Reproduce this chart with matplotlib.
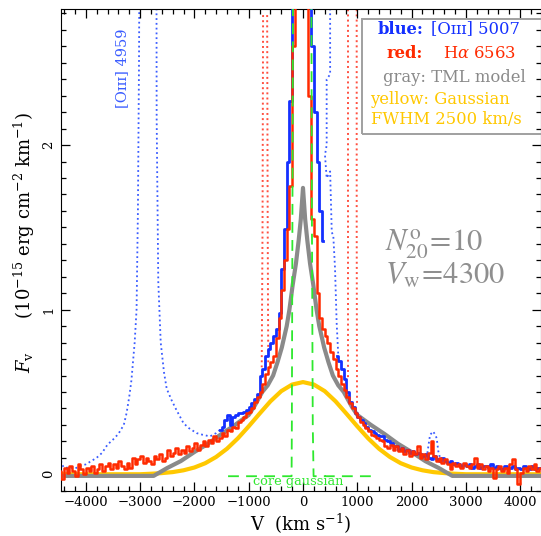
import numpy as np
import matplotlib
matplotlib.use('Agg')
import matplotlib.pyplot as plt
from matplotlib.patches import Rectangle
from matplotlib.ticker import MultipleLocator, FixedLocator

plt.rcParams['font.family'] = ['DejaVu Serif']
plt.rcParams['mathtext.fontset'] = 'dejavuserif'

# ---------------- data ----------------
# H-alpha 6563 (red), 50 km/s bins
red_v = np.arange(-4475, 4376, 50)
red_f = [0.02, -0.03, 0.04, 0.01, 0.05, 0.02, -0.01, 0.06, 0.03, 0.00,
         0.04, 0.02, 0.05, 0.01, 0.03, 0.06, 0.02, 0.05, 0.07, 0.03,
         0.06, 0.04, 0.08, 0.05, 0.03, 0.07, 0.04, 0.10, 0.06, 0.09,
         0.11, 0.07, 0.10, 0.08, 0.06, 0.11, 0.09, 0.12, 0.08, 0.10,
         0.15, 0.11, 0.13, 0.16, 0.12, 0.15, 0.13, 0.17, 0.14, 0.16,
         0.19, 0.15, 0.18, 0.20, 0.17, 0.21, 0.19, 0.23, 0.20, 0.22,
         0.25, 0.23, 0.27, 0.26, 0.29, 0.28, 0.32, 0.33, 0.35, 0.37,
         0.38, 0.40, 0.44, 0.47, 0.50, 0.55, 0.61, 0.65, 0.68, 0.72,
         0.83, 0.95, 1.12, 1.30, 1.49, 1.75, 2.60, 4.50, 7.00, 9.00,
         9.00, 6.00, 2.30, 1.55, 1.45, 1.10, 0.95, 0.88, 0.84, 0.80,
         0.74, 0.70, 0.64, 0.60, 0.55, 0.51, 0.47, 0.43, 0.40, 0.37,
         0.35, 0.32, 0.30, 0.28, 0.26, 0.24, 0.23, 0.22, 0.21, 0.20,
         0.17, 0.16, 0.18, 0.15, 0.17, 0.14, 0.16, 0.12, 0.15, 0.11,
         0.14, 0.12, 0.17, 0.10, 0.12, 0.09, 0.13, 0.20, 0.11, 0.08,
         0.10, 0.07, 0.09, 0.06, 0.03, 0.07, 0.05, 0.06, 0.04, 0.07,
         0.05, 0.04, 0.06, 0.10, 0.04, 0.06, 0.03, 0.05, 0.02, 0.04,
         -0.02, 0.03, 0.05, 0.02, 0.04, 0.01, 0.06, 0.09, 0.03, -0.06,
         0.01, 0.04, 0.02, 0.05, 0.03, 0.06, 0.02, 0.04]

# [OIII] 5007 (blue), solid part 1 (wing + core)
blue_a_v = np.arange(-1525, 376, 50)
blue_a_f = [0.27, 0.29, 0.33, 0.36, 0.30, 0.35, 0.36, 0.37, 0.37, 0.38,
            0.39, 0.41, 0.43, 0.46, 0.49, 0.60, 0.64, 0.72, 0.76, 0.80,
            0.84, 0.88, 0.98, 1.25, 1.49, 1.90, 2.27, 4.00, 7.00, 10.0,
            12.0, 12.0, 8.00, 4.00, 2.60, 2.20, 1.90, 1.60, 1.42]
# [OIII] 5007 (blue), solid part 2 (red wing)
blue_b_v = np.arange(625, 4376, 50)
blue_b_f = [0.72, 0.69, 0.64, 0.58, 0.50, 0.44, 0.41, 0.37, 0.35, 0.33,
            0.31, 0.29, 0.27, 0.26, 0.25, 0.24, 0.23, 0.23, 0.21, 0.20,
            0.19, 0.17, 0.17, 0.15, 0.16, 0.14, 0.15, 0.13, 0.14, 0.12,
            0.13, 0.12, 0.11, 0.12, 0.10, 0.09, 0.11, 0.09, 0.08, 0.10,
            0.08, 0.07, 0.08, 0.06, 0.07, 0.06, 0.05, 0.06, 0.05, 0.06,
            0.04, 0.05, 0.06, 0.04, 0.05, 0.05, 0.04, 0.06, 0.04, 0.05,
            0.04, 0.03, 0.05, 0.04, 0.04, 0.05, 0.03, 0.04, 0.03, 0.05,
            0.04, 0.03, 0.05, 0.03, 0.04, 0.04]

# [OIII] 4959 (blue dotted)
o4959_v = [-4475, -4440, -4400, -4300, -4200, -4100, -4000, -3900, -3800, -3700,
           -3600, -3500, -3400, -3300, -3250, -3200, -3160, -3100, -3065, -3040,
           -3020, -3000, -2900, -2850, -2750, -2700, -2695, -2665, -2620, -2560,
           -2510, -2420, -2330, -2200, -2100, -1960, -1850, -1713, -1600, -1530]
o4959_f = [0.11, 0.06, 0.04, 0.04, 0.035, 0.05, 0.06, 0.08, 0.10, 0.13,
           0.18, 0.21, 0.245, 0.30, 0.37, 0.47, 0.57, 0.80, 1.00, 1.60,
           2.50, 4.00, 8.00, 8.00, 5.00, 3.50, 2.17, 1.17, 0.80, 0.62,
           0.52, 0.45, 0.39, 0.31, 0.28, 0.25, 0.24, 0.23, 0.25, 0.27]
# blue dotted near the core and bump at +2400
bdot_core_v = [500, 500, 436, 436, 405, 436, 500, 530, 558, 590, 620, 650]
bdot_core_f = [3.00, 2.43, 2.40, 2.00, 1.94, 1.80, 1.84, 1.47, 1.45, 1.25, 0.92, 0.72]
bdot_bump_v = [2278, 2340, 2400, 2462, 2492, 2523]
bdot_bump_f = [0.10, 0.24, 0.26, 0.22, 0.14, 0.10]

# red dotted (scaled) profiles
rdot_v = [[-735, -745, -760], [-660, -650, -640], [835, 835, 835], [989, 989, 995]]
rdot_f = [[2.79, 1.50, 0.65], [2.79, 1.50, 0.68], [3.00, 1.50, 0.57], [3.00, 1.50, 0.43]]

# TML model (gray)
tml_v = [-4450, -2750, -2500, -2250, -2000, -1750, -1500, -1250, -1000, -900,
         -750, -650, -550, -470, -390, -300, -250, -190, -130, -80, -40, 0,
         40, 80, 130, 190, 250, 300, 390, 470, 550, 650, 750, 900, 1000,
         1250, 1500, 1750, 2000, 2250, 2500, 2750, 4400]
tml_f = [-0.01, -0.01, 0.038, 0.08, 0.135, 0.185, 0.245, 0.30, 0.36, 0.41,
         0.50, 0.54, 0.60, 0.68, 0.77, 0.90, 1.00, 1.15, 1.28, 1.42, 1.55, 1.74,
         1.55, 1.42, 1.28, 1.15, 1.00, 0.90, 0.77, 0.68, 0.60, 0.54, 0.50, 0.41, 0.36,
         0.30, 0.245, 0.185, 0.135, 0.08, 0.038, -0.01, -0.01]

# Gaussian FWHM 2500 (yellow)
gau_v = [-4450, -3000, -2800, -2600, -2400, -2200, -2000, -1800, -1600, -1400,
         -1200, -1000, -800, -600, -400, -200, 0, 200, 400, 600, 800, 1000,
         1200, 1400, 1600, 1800, 2000, 2200, 2400, 2600, 2800, 3000, 4400]
gau_f = [0.0, 0.0, 0.003, 0.007, 0.013, 0.024, 0.041, 0.067, 0.105, 0.155,
         0.218, 0.291, 0.368, 0.443, 0.505, 0.545, 0.56, 0.545, 0.505, 0.443,
         0.368, 0.291, 0.218, 0.155, 0.105, 0.067, 0.041, 0.024, 0.013, 0.007,
         0.003, 0.0, 0.0]

# core gaussian (green dashed)
core_v = [-1380, -210, -205, -195, -185, -180, 150, 155, 165, 180, 195, 1380]
core_f = [-0.012, -0.012, 0.30, 1.50, 2.84, 3.50, 3.50, 2.84, 1.50, 0.30, -0.012, -0.012]

# ---------------- figure ----------------
W, H = 541, 536
fig = plt.figure(figsize=(W / 100, H / 100), dpi=100)
ax = fig.add_axes([60.7 / W, 1 - 490.7 / H, 479.8 / W, 481.7 / H])

BLUE = '#1430ff'
BLUE_DOT = '#3a5cff'
RED = '#ff2a00'
RED_DOT = '#ff5040'
GRAY = '#8a8a8a'
YEL = '#ffc800'
GREEN = '#2ee82e'

ax.plot(o4959_v, o4959_f, ':', color=BLUE_DOT, lw=1.3, zorder=1)
ax.plot(bdot_core_v, bdot_core_f, ':', color=BLUE_DOT, lw=1.3, zorder=1)
ax.plot(bdot_bump_v, bdot_bump_f, ':', color=BLUE_DOT, lw=1.3, zorder=1)
for rv, rf in zip(rdot_v, rdot_f):
    ax.plot(rv, rf, ':', color=RED_DOT, lw=1.4, zorder=1)

ax.plot(gau_v, gau_f, '-', color=YEL, lw=3.0, zorder=2, solid_joinstyle='round')
ax.plot(tml_v, tml_f, '-', color=GRAY, lw=3.0, zorder=3, solid_joinstyle='round')
ax.plot(blue_a_v, blue_a_f, '-', color=BLUE, lw=2.0, drawstyle='steps-mid', zorder=4)
ax.plot(blue_b_v, blue_b_f, '-', color=BLUE, lw=2.0, drawstyle='steps-mid', zorder=4)
ax.plot(red_v, red_f, '-', color=RED, lw=1.8, drawstyle='steps-mid', zorder=5)
ax.plot(core_v, core_f, '--', color=GREEN, lw=1.3, dashes=(6, 4), zorder=6)

ax.set_xlim(-4462, 4374)
ax.set_ylim(-0.10, 2.827)

ax.xaxis.set_major_locator(MultipleLocator(1000))
ax.xaxis.set_minor_locator(MultipleLocator(200))
ax.yaxis.set_major_locator(FixedLocator([0, 1, 2]))
ax.yaxis.set_minor_locator(MultipleLocator(0.1))
ax.tick_params(which='both', direction='in', top=True, right=True, width=0.9)
ax.tick_params(which='major', length=6.5)
ax.tick_params(which='minor', length=3.5)
ax.tick_params(axis='x', labelsize=9.5, pad=4)
ax.tick_params(axis='y', labelsize=9.5, pad=4)
for lab in ax.get_yticklabels():
    lab.set_rotation(90)
    lab.set_va('center')

ax.set_xlabel(r'V  (km s$^{-1}$)', fontsize=13, labelpad=2)
ax.set_ylabel(r'$F_{\rm v}$      (10$^{-15}$ erg cm$^{-2}$ km$^{-1}$)', fontsize=13)
ax.yaxis.set_label_coords((37 - 60.7) / 479.8, (490.7 - 242) / 481.7)

# annotations
ax.text(-3333, 2.47, '[Oɪɪɪ] 4959', rotation=90, color=BLUE_DOT, fontsize=10.5,
        ha='center', va='center')
ax.text(-92, -0.045, 'core gaussian', color=GREEN, fontsize=9.3, ha='center', va='center')

def fx(px):
    return px / W

def fy(py):
    return 1 - py / H

fig.text(fx(385), fy(250), r'$N^{\rm o}_{20}\!=\!10$', color='#8f8f8f', fontsize=22,
         ha='left', va='baseline', math_fontfamily='stix')
fig.text(fx(385), fy(284), r'$V_{\rm w}\!=\!4300$', color='#8f8f8f', fontsize=22,
         ha='left', va='baseline', math_fontfamily='stix')

# legend box
box = Rectangle((fx(361.5), fy(134)), 1.05 - fx(361.5), fy(19) - fy(134),
                transform=fig.transFigure, fill=False, edgecolor='#a0a0a0', lw=1.4)
fig.patches.append(box)
LS = 11.8
fig.text(fx(401), fy(29), 'blue:', color=BLUE, fontsize=LS, weight='bold', ha='center', va='center')
fig.text(fx(475), fy(29), '[Oɪɪɪ] 5007', color=BLUE, fontsize=LS, ha='center', va='center')
fig.text(fx(405), fy(53), 'red:', color=RED, fontsize=LS, weight='bold', ha='center', va='center')
fig.text(fx(480), fy(53), 'H$\\alpha$ 6563', color=RED, fontsize=LS, ha='center', va='center')
fig.text(fx(454), fy(77), 'gray: TML model', color=GRAY, fontsize=LS, ha='center', va='center')
fig.text(fx(440), fy(100), 'yellow: Gaussian', color=YEL, fontsize=LS, ha='center', va='center')
fig.text(fx(446), fy(120), 'FWHM 2500 km/s', color=YEL, fontsize=LS, ha='center', va='center')

fig.savefig('out.png', dpi=100)
